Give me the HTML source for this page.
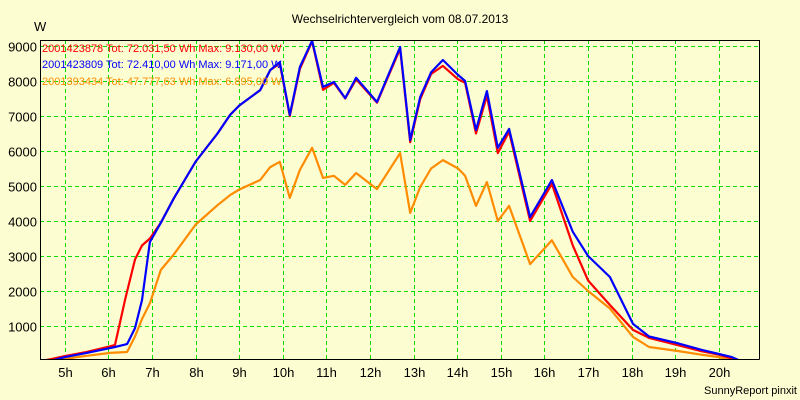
<!DOCTYPE html>
<html><head><meta charset="utf-8"><style>
html,body{margin:0;padding:0;background:#fdfdd2;}
svg{display:block;font-family:"Liberation Sans",sans-serif;}
</style></head><body>
<svg id="chart" width="800" height="400" viewBox="0 0 800 400">
<rect x="0" y="0" width="800" height="400" fill="#fdfdd2"/>
<text x="400" y="23" text-anchor="middle" font-size="12">Wechselrichtervergleich vom 08.07.2013</text>
<text x="34" y="31" font-size="13">W</text>
<text x="797" y="394" text-anchor="end" font-size="11">SunnyReport pinxit</text>
<g id="grid"></g>
<g id="ylabels"></g>
<g id="xlabels"></g>
<clipPath id="pc"><rect x="40" y="40" width="719" height="319"/></clipPath>
<g id="series" clip-path="url(#pc)"></g>
<line x1="40.5" y1="40" x2="40.5" y2="359.5" stroke="#000"/>
<line x1="40" y1="359.5" x2="759.5" y2="359.5" stroke="#000"/>
<line x1="40" y1="40.5" x2="759.5" y2="40.5" stroke="#000"/>
<line x1="759.5" y1="40" x2="759.5" y2="359.5" stroke="#000"/>
<g font-size="11">
<text x="42" y="52" fill="#ff0000">2001423878 Tot: 72.031,50 Wh Max: 9.130,00 W</text>
<text x="42" y="68" fill="#0000ff">2001423809 Tot: 72.410,00 Wh Max: 9.171,00 W</text>
<text x="42" y="85" fill="#ff8c00">2001393434 Tot: 47.777,63 Wh Max: 6.895,00 W</text>
</g>
</svg>
<script>
const hours = [4.43,4.66,5.0,5.5,6.04,6.15,6.38,6.43,6.61,6.77,6.95,7.2,7.5,8.0,8.5,8.79,9.0,9.48,9.71,9.93,10.16,10.39,10.67,10.92,11.17,11.43,11.68,12.16,12.69,12.92,13.15,13.4,13.67,14.02,14.18,14.43,14.68,14.93,15.19,15.67,16.17,16.65,17.0,17.5,18.03,18.4,19.04,19.6,20.0,20.3,20.5,20.92];
const blueVals = [0,0,110,230,370,400,470,490,940,1740,3400,3950,4650,5700,6500,7030,7300,7740,8310,8540,7030,8400,9150,7830,7970,7510,8090,7400,8970,6310,7540,8250,8600,8170,8000,6600,7710,6090,6630,4110,5170,3690,3000,2400,1060,700,510,320,200,110,0,0];
const redVals = [0,50,140,260,420,460,1740,2000,2900,3300,3500,3950,4650,5700,6500,7030,7300,7740,8310,8500,7000,8350,9130,7750,7950,7500,8050,7380,8920,6250,7480,8200,8430,8050,7950,6500,7580,5940,6550,4000,5060,3300,2300,1600,890,660,460,280,180,70,0,0];
const orangeVals = [0,0,60,150,230,240,255,260,700,1200,1650,2600,3050,3900,4450,4740,4900,5170,5540,5690,4660,5460,6090,5230,5290,5030,5370,4910,5940,4230,4970,5500,5740,5500,5290,4430,5110,4000,4430,2770,3450,2400,2000,1500,690,400,290,180,110,0,0,0];
const yTicks = [1000,2000,3000,4000,5000,6000,7000,8000,9000];
const xTicks = [5,6,7,8,9,10,11,12,13,14,15,16,17,18,19,20];

const NS="http://www.w3.org/2000/svg";
function xs(h){return 40+(h-4.43)*43.6;}
function ys(v){return 361-v*0.035;}
function mk(t,a,p){const e=document.createElementNS(NS,t);for(const k in a)e.setAttribute(k,a[k]);p.appendChild(e);return e;}
const grid=document.getElementById('grid'),yl=document.getElementById('ylabels'),xl=document.getElementById('xlabels'),ser=document.getElementById('series');
yTicks.forEach(v=>{
  const y=Math.round(ys(v))+0.5;
  const g=mk('line',{x1:40,x2:759,y1:y,y2:y,stroke:'#00dd00','stroke-dasharray':'4,3'},grid);
  
  
  const t=mk('text',{x:37,y:y+5,'text-anchor':'end','font-size':'13'},yl);
  t.textContent=v;
  
  
});
xTicks.forEach(h=>{
  const x=Math.round(xs(h))+0.5;
  const g=mk('line',{x1:x,x2:x,y1:40,y2:359,stroke:'#00dd00','stroke-dasharray':'4,3'},grid);
  
  
  const t=mk('text',{x:x,y:377,'text-anchor':'middle','font-size':'13'},xl);
  t.textContent=h+'h';
  
  
});
function line(vals,color,name){
  const d=vals.map((v,i)=>(i?'L':'M')+xs(hours[i]).toFixed(1)+' '+ys(v).toFixed(1)).join(' ');
  const p=mk('path',{d:d,fill:'none',stroke:color,'stroke-width':2.2,'stroke-linejoin':'round'},ser);
  
  
}
line(orangeVals,'#ff8c00','series-2001393434');
line(redVals,'#ff0000','series-2001423878');
line(blueVals,'#0000ff','series-2001423809');
</script>
</body></html>
